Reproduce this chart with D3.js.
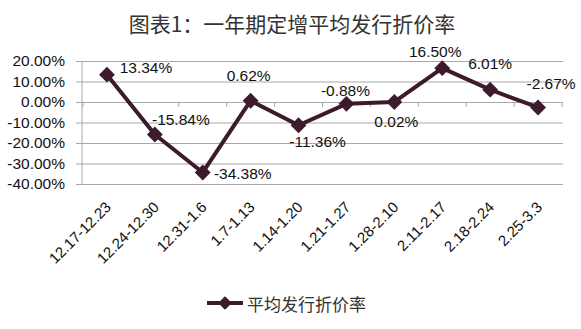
<!DOCTYPE html>
<html>
<head>
<meta charset="utf-8">
<script src="https://cdn.jsdelivr.net/npm/d3@7"></script>
<style>
  html, body { margin: 0; padding: 0; background: #fff; }
  svg { display: block; }
</style>
</head>
<body>
<svg id="chart" width="581" height="329"></svg>
<script>
const title = "图表1：一年期定增平均发行折价率";
const seriesName = "平均发行折价率";
const categories = ["12.17-12.23","12.24-12.30","12.31-1.6","1.7-1.13","1.14-1.20","1.21-1.27","1.28-2.10","2.11-2.17","2.18-2.24","2.25-3.3"];
const values = [13.34, -15.84, -34.38, 0.62, -11.36, -0.88, 0.02, 16.50, 6.01, -2.67];
const yTicks = [20, 10, 0, -10, -20, -30, -40];
// label offsets (text centre relative to marker), px
const labelDx = [39, 26, 40, -2, 19, -1, 2, -7, 0, 13];
const labelDy = [-7, -15, 1, -25, 16, -13, 20, -17, -26, -24];

const svg = d3.select("#chart");
const font = "'Liberation Sans', Arial, sans-serif";
const cjk = "'Noto Sans CJK SC', sans-serif";
const lineColor = "#3c1b2c";
const gridColor = "#a8a8a8";

const x = d3.scalePoint().domain(categories).range([83, 562]).padding(0.5);
const y = d3.scaleLinear().domain([-40, 20]).range([184, 61]);

// title
svg.append("text")
  .attr("x", 292).attr("y", 32)
  .attr("text-anchor", "middle")
  .attr("font-family", cjk).attr("font-size", 21)
  .attr("fill", "#333")
  .text(title);

// gridlines + y axis labels
const yAxis = d3.axisLeft(y).tickValues(yTicks)
  .tickSize(-(563 - 82)).tickFormat(d => d.toFixed(2) + "%");
const gy = svg.append("g").attr("transform", "translate(82,0)").call(yAxis);
gy.select(".domain").remove();
gy.selectAll(".tick line").attr("stroke", gridColor).attr("stroke-width", 1)
  .attr("x1", -6);
gy.selectAll(".tick text").attr("x", -17)
  .attr("font-family", font).attr("font-size", 15.5).attr("fill", "#111");

// vertical axis line
svg.append("line").attr("x1", 82).attr("x2", 82)
  .attr("y1", y(20)).attr("y2", y(-40))
  .attr("stroke", gridColor).attr("stroke-width", 1);

// horizontal axis at 0 with ticks at category boundaries
const step = x.step();
const bounds = d3.range(categories.length + 1).map(i => x(categories[0]) - step / 2 + i * step);
svg.append("g").selectAll("line").data(bounds).join("line")
  .attr("x1", d => d).attr("x2", d => d)
  .attr("y1", y(0)).attr("y2", y(0) + 5)
  .attr("stroke", gridColor).attr("stroke-width", 1);

// x labels (bottom, rotated)
svg.append("g").selectAll("text").data(categories).join("text")
  .attr("transform", d => `translate(${x(d) + 5},${208}) rotate(-45)`)
  .attr("text-anchor", "end")
  .attr("font-family", font).attr("font-size", 15).attr("fill", "#111")
  .text(d => d);

// line
const line = d3.line().x((d, i) => x(categories[i])).y(d => y(d));
svg.append("path").datum(values)
  .attr("d", line).attr("fill", "none")
  .attr("stroke", lineColor).attr("stroke-width", 4)
  .attr("stroke-linejoin", "round");

// markers
const diamond = d3.symbol().type(d3.symbolDiamond2 || d3.symbolDiamond).size(160);
svg.append("g").selectAll("path").data(values).join("path")
  .attr("d", diamond)
  .attr("transform", (d, i) => `translate(${x(categories[i])},${y(d)})`)
  .attr("fill", lineColor);

// data labels
svg.append("g").selectAll("text").data(values).join("text")
  .attr("x", (d, i) => x(categories[i]) + labelDx[i])
  .attr("y", (d, i) => y(d) + labelDy[i])
  .attr("text-anchor", "middle").attr("dominant-baseline", "central")
  .attr("font-family", font).attr("font-size", 15.5).attr("fill", "#111")
  .text(d => d.toFixed(2) + "%");

// legend
const lg = svg.append("g");
lg.append("line").attr("x1", 207).attr("x2", 243).attr("y1", 303).attr("y2", 303)
  .attr("stroke", lineColor).attr("stroke-width", 4);
lg.append("path").attr("d", d3.symbol().type(d3.symbolDiamond2 || d3.symbolDiamond).size(120))
  .attr("transform", "translate(225,303)").attr("fill", lineColor);
lg.append("text").attr("x", 247).attr("y", 303)
  .attr("dominant-baseline", "central")
  .attr("font-family", cjk).attr("font-size", 17).attr("fill", "#333")
  .text(seriesName);
</script>
</body>
</html>
